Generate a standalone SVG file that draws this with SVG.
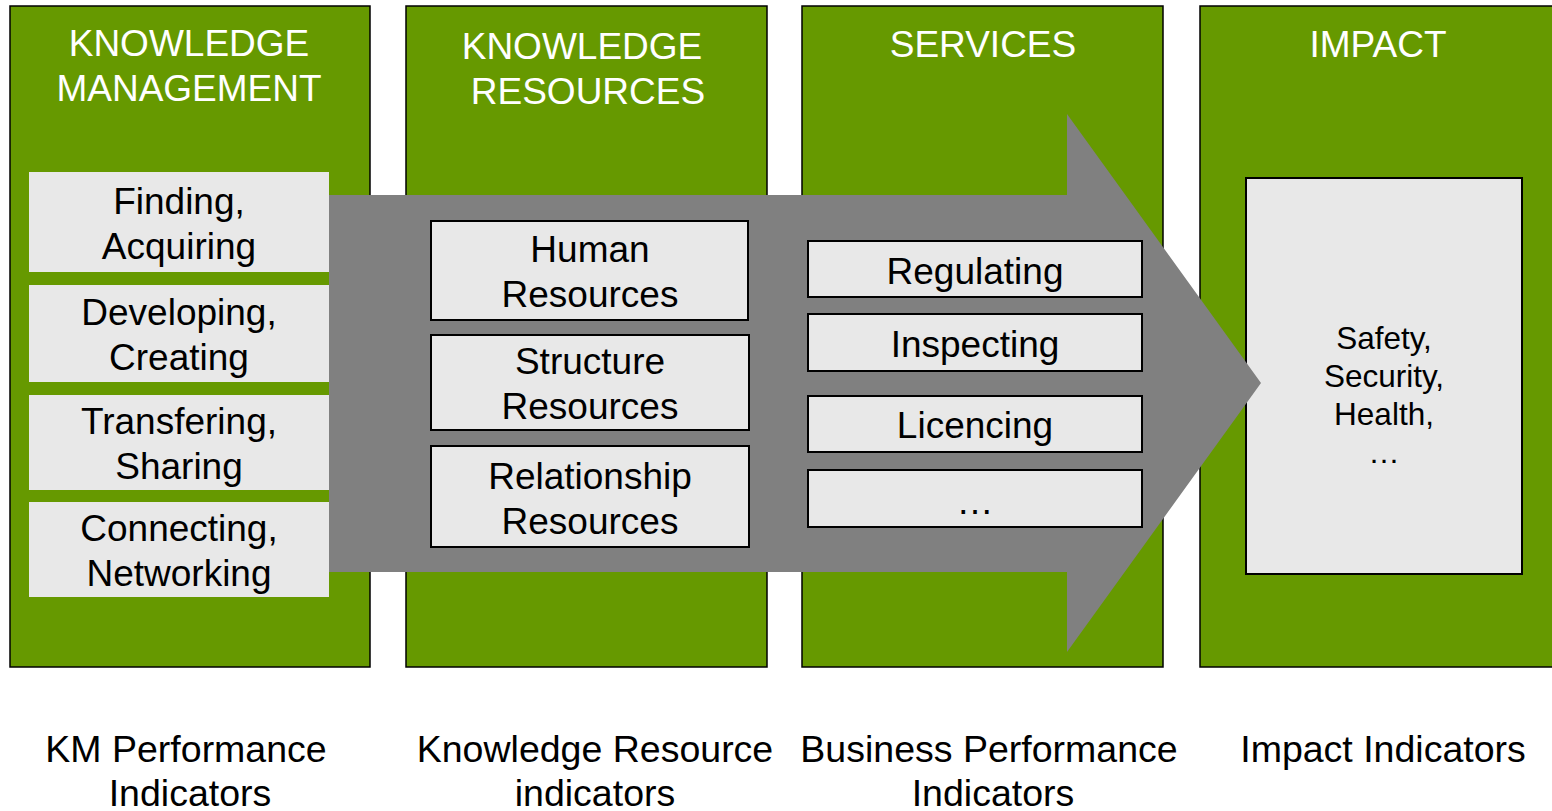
<svg xmlns="http://www.w3.org/2000/svg" width="1552" height="811" viewBox="0 0 1552 811">
<style>
.col{fill:#669900;stroke:#000;stroke-width:1.5}
.hd{font-family:"Liberation Sans",Arial,sans-serif;font-size:37px;fill:#fff;text-anchor:middle}
.lb{fill:#e8e8e8}
.bx{fill:#e8e8e8;stroke:#000;stroke-width:2}
.t{font-family:"Liberation Sans",Arial,sans-serif;font-size:37px;fill:#000;text-anchor:middle}
.ts{font-family:"Liberation Sans",Arial,sans-serif;font-size:31.5px;fill:#000;text-anchor:middle}
.ft{font-family:"Liberation Sans",Arial,sans-serif;font-size:37.5px;fill:#000;text-anchor:middle}
</style>
<rect width="1552" height="811" fill="#fff"/>
<g id="col-km">
<rect class="col" x="10" y="6" width="360" height="661"/>
<text class="hd" x="189" y="56">KNOWLEDGE</text>
<text class="hd" x="189" y="101">MANAGEMENT</text>
</g>
<g id="col-kr">
<rect class="col" x="406" y="6" width="361" height="661"/>
<text class="hd" x="582" y="59">KNOWLEDGE</text>
<text class="hd" x="588" y="104">RESOURCES</text>
</g>
<g id="col-services">
<rect class="col" x="802" y="6" width="361" height="661"/>
<text class="hd" x="983" y="57">SERVICES</text>
</g>
<g id="col-impact">
<rect class="col" x="1200" y="6" width="360" height="661"/>
<text class="hd" x="1378" y="57">IMPACT</text>
</g>
<g id="impact-box">
<rect class="bx" x="1246" y="178" width="276" height="396"/>
<text class="ts" x="1384" y="349">Safety,</text>
<text class="ts" x="1384" y="387">Security,</text>
<text class="ts" x="1384" y="425">Health,</text>
<text class="ts" x="1384" y="463">…</text>
</g>
<g id="connectors">
<polygon points="329,195 1067,195 1067,114 1261,383 1067,652 1067,572 329,572" fill="#808080"/>
</g>
<g id="km-finding">
<rect class="lb" x="29" y="172" width="300" height="100"/>
<text class="t" x="179" y="214">Finding,</text>
<text class="t" x="179" y="259">Acquiring</text>
</g>
<g id="km-developing">
<rect class="lb" x="29" y="285" width="300" height="97"/>
<text class="t" x="179" y="325">Developing,</text>
<text class="t" x="179" y="370">Creating</text>
</g>
<g id="km-transfering">
<rect class="lb" x="29" y="395" width="300" height="95"/>
<text class="t" x="179" y="434">Transfering,</text>
<text class="t" x="179" y="479">Sharing</text>
</g>
<g id="km-connecting">
<rect class="lb" x="29" y="502" width="300" height="95"/>
<text class="t" x="179" y="541">Connecting,</text>
<text class="t" x="179" y="586">Networking</text>
</g>
<g id="kr-human">
<rect class="bx" x="431" y="221" width="317" height="99"/>
<text class="t" x="590" y="262">Human</text>
<text class="t" x="590" y="307">Resources</text>
</g>
<g id="kr-structure">
<rect class="bx" x="431" y="335" width="318" height="95"/>
<text class="t" x="590" y="374">Structure</text>
<text class="t" x="590" y="419">Resources</text>
</g>
<g id="kr-relationship">
<rect class="bx" x="431" y="446" width="318" height="101"/>
<text class="t" x="590" y="489">Relationship</text>
<text class="t" x="590" y="534">Resources</text>
</g>
<g id="sv-regulating">
<rect class="bx" x="808" y="241" width="334" height="56"/>
<text class="t" x="975" y="284">Regulating</text>
</g>
<g id="sv-inspecting">
<rect class="bx" x="808" y="314" width="334" height="57"/>
<text class="t" x="975" y="357">Inspecting</text>
</g>
<g id="sv-licencing">
<rect class="bx" x="808" y="396" width="334" height="56"/>
<text class="t" x="975" y="438">Licencing</text>
</g>
<g id="sv-more">
<rect class="bx" x="808" y="470" width="334" height="57"/>
<text class="t" x="975" y="514">…</text>
</g>
<g id="footer-km">
<text class="ft" x="186" y="762">KM Performance</text>
<text class="ft" x="190" y="806">Indicators</text>
</g>
<g id="footer-kr">
<text class="ft" x="595" y="762">Knowledge Resource</text>
<text class="ft" x="595" y="806">indicators</text>
</g>
<g id="footer-bp">
<text class="ft" x="989" y="762">Business Performance</text>
<text class="ft" x="993" y="806">Indicators</text>
</g>
<g id="footer-impact">
<text class="ft" x="1383" y="762">Impact Indicators</text>
</g>
</svg>
